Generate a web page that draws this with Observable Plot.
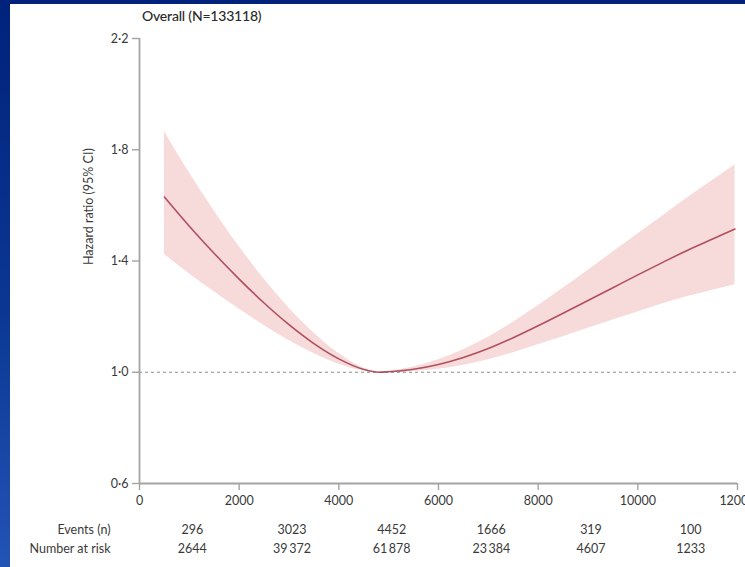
<!DOCTYPE html>
<html>
<head>
<meta charset="utf-8">
<script src="https://cdn.jsdelivr.net/npm/d3@7"></script>
<script src="https://cdn.jsdelivr.net/npm/@observablehq/plot@0.6"></script>
<style>
  html, body { margin: 0; padding: 0; }
  body {
    width: 745px; height: 567px; overflow: hidden; position: relative;
    background: linear-gradient(to bottom, #00227a 0%, #0b3793 55%, #2254b6 100%);
    font-family: Lato, "Open Sans", sans-serif;
  }
  #panel { position: absolute; left: 10px; top: 4px; right: 0; bottom: 0; background: #fff; }
  #title { position: absolute; left: 142px; top: 7px; font-size: 14px; font-weight: 500; color: #2a2a2a; letter-spacing: -0.2px; }
  #chart { position: absolute; left: 0; top: 0; width: 780px; }
</style>
</head>
<body>
<div id="panel"></div>
<div id="title">Overall (N=133118)</div>
<div id="chart"></div>
<script>
// Spline estimate of hazard ratio by daily step count, with 95% CI
const steps       = [500, 1000, 1500, 2000, 2500, 3000, 3500, 4000, 4500, 4800, 5000, 5500, 6000, 6500, 7000, 7500, 8000, 8500, 9000, 9500, 10000, 10500, 11000, 11500, 11950];
const hazardRatio = [1.63, 1.525, 1.427, 1.335, 1.249, 1.171, 1.103, 1.048, 1.010, 1.00, 1.002, 1.011, 1.028, 1.053, 1.085, 1.124, 1.167, 1.212, 1.258, 1.304, 1.350, 1.395, 1.439, 1.479, 1.515];
const ciLower     = [1.424, 1.354, 1.289, 1.227, 1.168, 1.114, 1.067, 1.029, 1.005, 1.00, 1.000, 1.003, 1.011, 1.025, 1.045, 1.070, 1.099, 1.128, 1.158, 1.188, 1.217, 1.246, 1.272, 1.295, 1.315];
const ciUpper     = [1.866, 1.717, 1.580, 1.452, 1.335, 1.231, 1.141, 1.067, 1.015, 1.00, 1.004, 1.019, 1.045, 1.081, 1.126, 1.180, 1.239, 1.302, 1.366, 1.432, 1.497, 1.562, 1.627, 1.689, 1.745];

// Axis ticks
const xTicks = [0, 2000, 4000, 6000, 8000, 10000, 12000];
const yTicks = [0.6, 1.0, 1.4, 1.8, 2.2];

// Risk table, one column per 2000-step interval
const intervalMid = [1000, 3000, 5000, 7000, 9000, 11000];
const events = [296, 3023, 4452, 1666, 319, 100];
const atRisk = [2644, 39372, 61878, 23384, 4607, 1233];
const rowLabels = ["Events (n)", "Number at risk"];

const curve = steps.map((x, i) => ({x, hr: hazardRatio[i], lo: ciLower[i], hi: ciUpper[i]}));
const table = intervalMid.map((x, i) => ({x, events: events[i], risk: atRisk[i]}));
const countFmt = d => d >= 10000 ? String(d).replace(/(\d{3})$/, "\u2009$1") : String(d);
const axisGrey = "#a4a4a4";
const textGrey = "#3a3a3a";

const chart = Plot.plot({
  width: 780,
  height: 567,
  marginLeft: 139,
  marginRight: 43,
  marginTop: 38,
  marginBottom: 84,
  style: {fontFamily: "Lato, 'Open Sans', sans-serif", fontSize: "12.5px", color: textGrey, background: "transparent", overflow: "visible", maxWidth: "none"},
  x: {domain: [0, 12000]},
  y: {domain: [0.6, 2.2]},
  marks: [
    Plot.areaY(curve, {x: "x", y1: "lo", y2: "hi", fill: "#f7dada", curve: "monotone-x"}),
    Plot.ruleY([1], {stroke: "#8c8c8c", strokeWidth: 1, strokeDasharray: "3,3"}),
    Plot.lineY(curve, {x: "x", y: "hr", stroke: "#b0505e", strokeWidth: 1.6, curve: "monotone-x"}),
    Plot.axisX({ticks: xTicks, tickFormat: d => String(d), tickSize: 7, tickPadding: 6, stroke: axisGrey, strokeWidth: 1.4, label: null, fill: textGrey}),
    Plot.axisY({ticks: yTicks, tickFormat: d => d.toFixed(1).replace(".", "·"), tickSize: 7, tickPadding: 4, stroke: axisGrey, strokeWidth: 1.4, label: null, fill: textGrey}),
    Plot.ruleY([0.6], {stroke: axisGrey, strokeWidth: 1.8}),
    Plot.ruleX([0], {stroke: axisGrey, strokeWidth: 1.8}),
    Plot.text(["Hazard ratio (95% CI)"], {frameAnchor: "left", rotate: -90, dx: -51, dy: 4, fill: textGrey}),
    Plot.text(table, {x: "x", text: d => countFmt(d.events), frameAnchor: "bottom", dx: 3, dy: 50, fill: textGrey}),
    Plot.text(table, {x: "x", text: d => countFmt(d.risk), frameAnchor: "bottom", dx: 3, dy: 69, fill: textGrey}),
    Plot.text([rowLabels[0]], {frameAnchor: "bottom-left", textAnchor: "end", dx: -29, dy: 50, fill: textGrey}),
    Plot.text([rowLabels[1]], {frameAnchor: "bottom-left", textAnchor: "end", dx: -29, dy: 69, fill: textGrey})
  ]
});
document.getElementById("chart").appendChild(chart);
</script>
</body>
</html>
